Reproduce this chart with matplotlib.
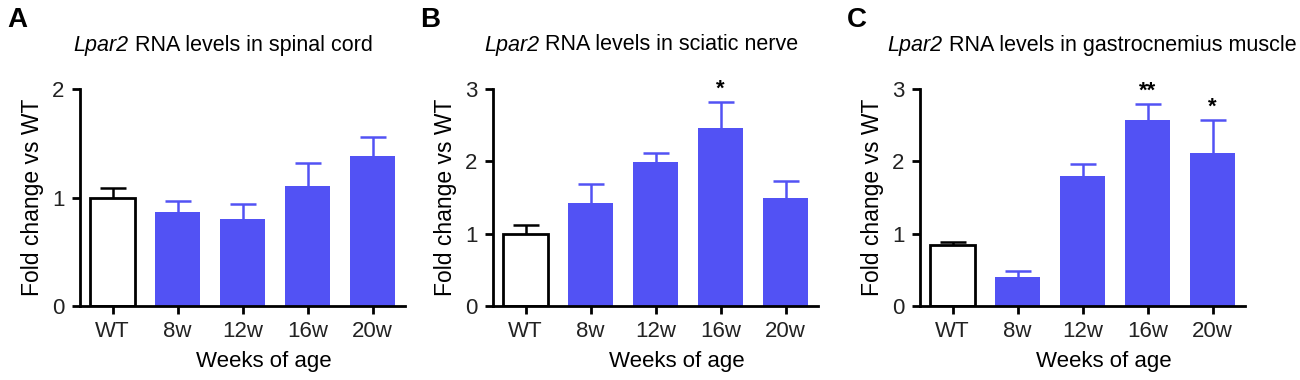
import numpy as np
import matplotlib
matplotlib.use('Agg')
import matplotlib.pyplot as plt

plt.rcParams['font.family'] = ['Liberation Sans', 'DejaVu Sans']

# data
groups = ['WT', '8w', '12w', '16w', '20w']
spinal_mean = [1.0, 0.867, 0.80, 1.11, 1.38]
spinal_sem = [0.085, 0.105, 0.14, 0.21, 0.18]
sciatic_mean = [1.0, 1.43, 1.99, 2.46, 1.50]
sciatic_sem = [0.12, 0.26, 0.12, 0.36, 0.23]
gastro_mean = [0.84, 0.40, 1.80, 2.57, 2.11]
gastro_sem = [0.04, 0.08, 0.17, 0.22, 0.46]
sciatic_stars = ['', '', '', '*', '']
gastro_stars = ['', '', '', '**', '*']

blue = '#5252F4'

panels = [
    ('A', 'spinal cord', spinal_mean, spinal_sem, None, 2, 80, 223),
    ('B', 'sciatic nerve', sciatic_mean, sciatic_sem, sciatic_stars, 3, 493, 641),
    ('C', 'gastrocnemius muscle', gastro_mean, gastro_sem, gastro_stars, 3, 920, 1092),
]

W, H = 1300, 380
fig = plt.figure(figsize=(13, 3.8), dpi=100)
renderer = fig.canvas.get_renderer()

for letter, tissue, mean, sem, stars, ymax, left, tx in panels:
    ax = fig.add_axes([left / W, (H - 306) / H, 325 / W, 217 / H])
    x = np.arange(len(groups))
    colors = ['white'] + [blue] * 4
    edges = ['black'] + [blue] * 4
    for i in x:
        ec = edges[i]
        top = mean[i] + sem[i]
        ax.vlines(i, mean[i], top, color=ec, linewidth=1.8, zorder=1)
        ax.hlines(top, i - 0.2, i + 0.2, color=ec, linewidth=1.8, zorder=1)
        ax.bar(i, mean[i], width=0.68, color=colors[i], edgecolor=ec,
               linewidth=2 if i == 0 else 0, zorder=2)
        if stars and stars[i]:
            ax.text(i, top + 0.03, stars[i], ha='center', va='bottom',
                    fontsize=16, fontweight='bold')
    ax.set_xlim(-0.5, 4.5)
    ax.set_ylim(0, ymax)
    ax.set_yticks(range(ymax + 1))
    ax.set_xticks(x)
    ax.set_xticklabels(groups)
    ax.spines['top'].set_visible(False)
    ax.spines['right'].set_visible(False)
    ax.spines['left'].set_linewidth(2)
    ax.spines['bottom'].set_linewidth(2)
    ax.tick_params(width=2, length=6, labelsize=16, pad=5, labelcolor='#222222')
    ax.set_ylabel('Fold change vs WT', fontsize=16.5, labelpad=6)
    ax.set_xlabel('Weeks of age', fontsize=16, va='center')
    ax.xaxis.set_label_coords(0.566, -(361 - 306) / 217)

    # title: italic gene name followed by plain text, centred as one line
    t1 = fig.text(0, 1 - 45 / H, 'Lpar2', style='italic', ha='left', va='center', fontsize=15.5)
    t2 = fig.text(0, 1 - 45 / H, ' RNA levels in ' + tissue, ha='left', va='center', fontsize=15.5)
    w1 = t1.get_window_extent(renderer).width
    w2 = t2.get_window_extent(renderer).width
    x0 = tx - (w1 + w2) / 2
    t1.set_x(x0 / W)
    t2.set_x((x0 + w1) / W)

    fig.text((left - 73) / W, 1 - 20 / H, letter, ha='left', va='center',
             fontsize=20, fontweight='bold')

fig.savefig('out.png', dpi=100)
